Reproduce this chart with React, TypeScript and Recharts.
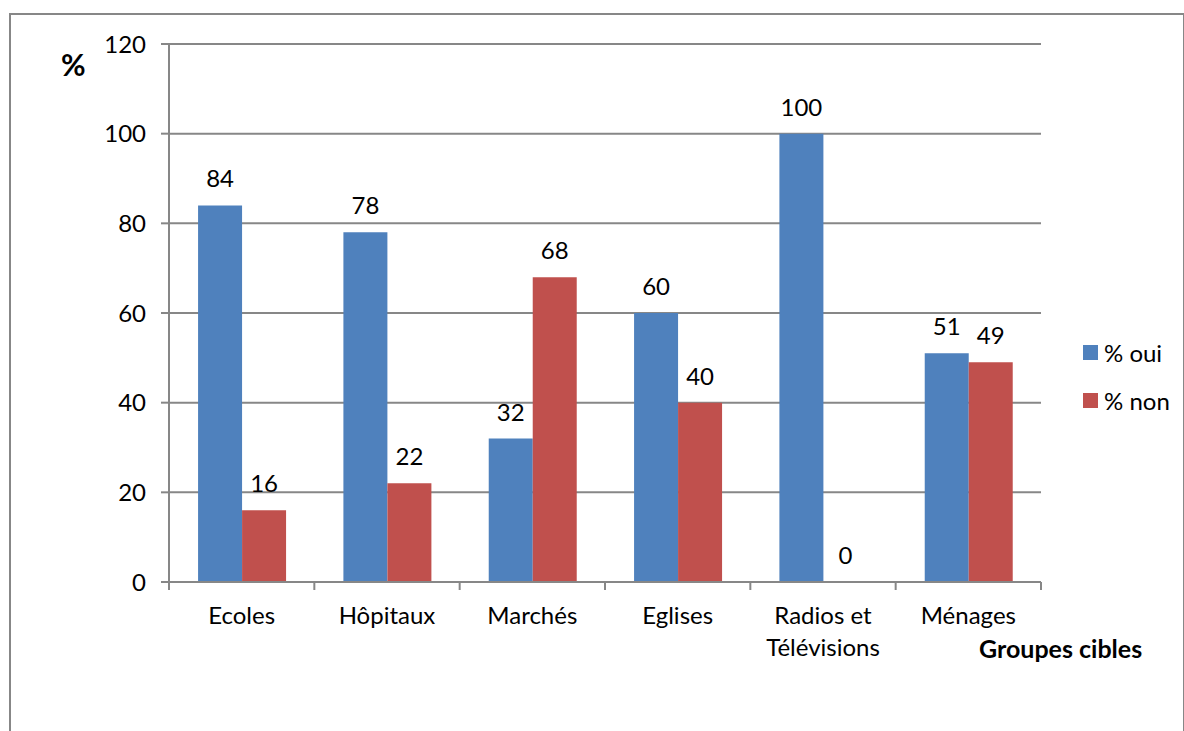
import React from "react";
import {
  BarChart,
  Bar,
  XAxis,
  YAxis,
  CartesianGrid,
  LabelList,
} from "recharts";

// Groupes cibles
const categories = ["Ecoles", "Hôpitaux", "Marchés", "Eglises", "Radios et\nTélévisions", "Ménages"];
const oui = [84, 78, 32, 60, 100, 51];
const non = [16, 22, 68, 40, 0, 49];
const yTicks = [0, 20, 40, 60, 80, 100, 120];

const data = categories.map((name, i) => ({ name, oui: oui[i], non: non[i] }));

const FONT = "Lato, 'Open Sans', sans-serif";
const FS = 24;
const GRID = "#878787";
const BLUE = "#4F81BD";
const RED = "#C0504D";

const PLOT_LEFT = 169;
const PLOT_RIGHT = 1041;
const HALF_BAND = (PLOT_RIGHT - PLOT_LEFT) / categories.length / 2;

const CategoryTick = (props: any) => {
  const { x, y, payload, index } = props;
  const lines = String(payload.value).split("\n");
  const last = index === categories.length - 1;
  return (
    <g>
      <line x1={x - HALF_BAND} x2={x - HALF_BAND} y1={y - 8} y2={y} stroke={GRID} strokeWidth={2} />
      {last && (
        <line x1={x + HALF_BAND} x2={x + HALF_BAND} y1={y - 8} y2={y} stroke={GRID} strokeWidth={2} />
      )}
      {lines.map((l, i) => (
        <text key={i} x={x} y={y + 34 + i * 32} textAnchor="middle" fontSize={FS} fontFamily={FONT} fill="#000">
          {l}
        </text>
      ))}
    </g>
  );
};

const LegendBox = () => (
  <div style={{ position: "absolute", left: 1083, top: 328, fontFamily: FONT, fontSize: FS, color: "#000" }}>
    {[
      { c: BLUE, t: "% oui" },
      { c: RED, t: "% non" },
    ].map((it) => (
      <div key={it.t} style={{ display: "flex", alignItems: "center", height: 48 }}>
        <span style={{ width: 15, height: 15, background: it.c, display: "inline-block", marginRight: 6 }} />
        <span>{it.t}</span>
      </div>
    ))}
  </div>
);

export default function App() {
  return (
    <div style={{ position: "absolute", left: 0, top: 0, width: 1184, height: 731, background: "#fff", overflow: "hidden" }}>
      <div
        style={{
          position: "absolute",
          left: 9,
          top: 13,
          width: 1172,
          height: 740,
          border: `2px solid ${GRID}`,
        }}
      />
      <BarChart
        width={1184}
        height={731}
        data={data}
        margin={{ top: 44, right: 1184 - PLOT_RIGHT, bottom: 0, left: 0 }}
        barCategoryGap="20%"
        barGap={0}
      >
        <CartesianGrid vertical={false} stroke={GRID} strokeWidth={2} />
        <XAxis
          dataKey="name"
          height={149}
          interval={0}
          axisLine={{ stroke: GRID, strokeWidth: 2 }}
          tickLine={false}
          tick={<CategoryTick />}
        />
        <YAxis
          width={PLOT_LEFT}
          domain={[0, 120]}
          ticks={yTicks}
          interval={0}
          axisLine={{ stroke: GRID, strokeWidth: 2 }}
          tickLine={{ stroke: GRID, strokeWidth: 2 }}
          tickSize={8}
          tickMargin={15}
          tick={{ fontSize: FS, fontFamily: FONT, fill: "#000" }}
        />
        <Bar dataKey="oui" name="% oui" fill={BLUE} isAnimationActive={false}>
          <LabelList dataKey="oui" position="top" offset={18} fontSize={FS} fontFamily={FONT} fill="#000" />
        </Bar>
        <Bar dataKey="non" name="% non" fill={RED} minPointSize={0.01} isAnimationActive={false}>
          <LabelList dataKey="non" position="top" offset={18} fontSize={FS} fontFamily={FONT} fill="#000" />
        </Bar>
      </BarChart>
      <LegendBox />
      <div style={{ position: "absolute", left: 61, top: 46, fontFamily: FONT, fontSize: 30, fontWeight: 700 }}>%</div>
      <div style={{ position: "absolute", left: 979, top: 633, fontFamily: FONT, fontSize: 25, fontWeight: 700 }}>
        Groupes cibles
      </div>
    </div>
  );
}
